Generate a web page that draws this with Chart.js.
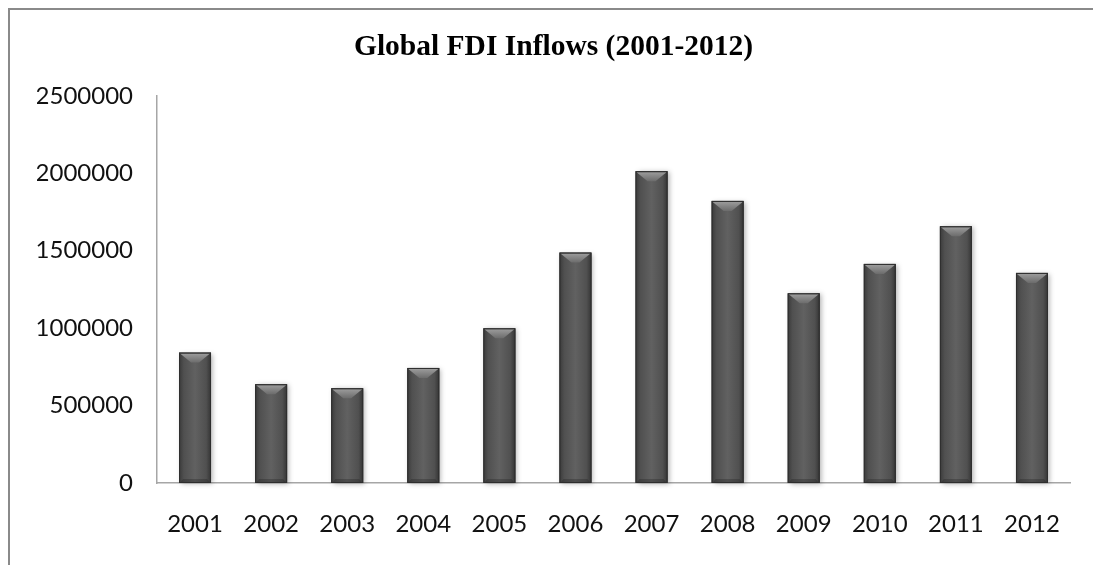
<!DOCTYPE html>
<html>
<head>
<meta charset="utf-8">
<title>Global FDI Inflows</title>
<script src="https://cdn.jsdelivr.net/npm/chart.js@4"></script>
<style>
  html, body { margin: 0; padding: 0; background: #fff; }
  #wrap { position: relative; width: 1093px; height: 565px; }
</style>
</head>
<body>
<div id="wrap"><canvas id="grafico"></canvas></div>
<script>
const years = ['2001', '2002', '2003', '2004', '2005', '2006', '2007', '2008', '2009', '2010', '2011', '2012']
const inflows = [842000, 638000, 612000, 743000, 999000, 1488000, 2014000, 1822000, 1225000, 1415000, 1658000, 1357000]
const yTicks = [0, 500000, 1000000, 1500000, 2000000, 2500000]

// frame lines (top + left) like the sheet border
const framePlugin = {
    id: 'frame',
    beforeDraw(chart) {
        const ctx = chart.ctx
        ctx.save()
        ctx.strokeStyle = '#8a8a8a'
        ctx.lineWidth = 2
        ctx.beginPath()
        ctx.moveTo(9, chart.height)
        ctx.lineTo(9, 9)
        ctx.lineTo(chart.width, 9)
        ctx.stroke()
        ctx.restore()
    }
}

// beveled dark bars painted over the library's bar elements
const bevelPlugin = {
    id: 'bevel',
    afterDatasetsDraw(chart) {
        const ctx = chart.ctx
        const meta = chart.getDatasetMeta(0)
        meta.data.forEach((bar) => {
            const w = bar.width
            const x0 = bar.x - w / 2
            const x1 = bar.x + w / 2
            const top = bar.y
            const bottom = bar.base
            const h = bottom - top
            const bev = Math.min(10, h / 2)

            ctx.save()
            // soft shadow
            ctx.shadowColor = 'rgba(0,0,0,0.3)'
            ctx.shadowBlur = 5
            ctx.shadowOffsetX = 2
            ctx.shadowOffsetY = 1
            const body = ctx.createLinearGradient(x0, 0, x1, 0)
            body.addColorStop(0, '#3a3a3a')
            body.addColorStop(0.15, '#505050')
            body.addColorStop(0.5, '#616161')
            body.addColorStop(0.85, '#505050')
            body.addColorStop(1, '#343434')
            ctx.fillStyle = body
            ctx.fillRect(x0, top, w, h)
            ctx.restore()

            ctx.save()
            // top bevel (light V)
            const cap = ctx.createLinearGradient(0, top, 0, top + bev)
            cap.addColorStop(0, '#a0a0a0')
            cap.addColorStop(1, '#6c6c6c')
            ctx.fillStyle = cap
            ctx.beginPath()
            ctx.moveTo(x0 + 1, top + 1)
            ctx.lineTo(x1 - 1, top + 1)
            ctx.lineTo(x1 - bev - 2, top + bev)
            ctx.lineTo(x0 + bev + 2, top + bev)
            ctx.closePath()
            ctx.fill()

            // bottom bevel (dark)
            ctx.fillStyle = 'rgba(30,30,30,0.3)'
            ctx.beginPath()
            ctx.moveTo(x0 + 1, bottom)
            ctx.lineTo(x1 - 1, bottom)
            ctx.lineTo(x1 - 4, bottom - 4)
            ctx.lineTo(x0 + 4, bottom - 4)
            ctx.closePath()
            ctx.fill()

            // outline
            ctx.strokeStyle = '#2e2e2e'
            ctx.lineWidth = 1
            ctx.strokeRect(x0 + 0.5, top + 0.5, w - 1, h - 1)
            ctx.restore()
        })
    }
}

const config = {
    type: 'bar',
    data: {
        labels: years,
        datasets: [{
            label: 'FDI Inflows',
            data: inflows,
            backgroundColor: '#555555',
            borderWidth: 0,
            barPercentage: 0.42,
            categoryPercentage: 1
        }]
    },
    options: {
        responsive: true,
        maintainAspectRatio: false,
        animation: false,
        layout: { padding: { left: 37, right: 23, top: 0, bottom: 0 } },
        plugins: {
            legend: { display: false },
            tooltip: { enabled: false },
            title: {
                display: true,
                text: 'Global FDI Inflows (2001-2012)',
                color: '#000',
                font: { family: '"Liberation Serif", "Times New Roman", serif', size: 29.5, weight: 'bold', lineHeight: 1.2 },
                padding: { top: 30, bottom: 30.5 }
            }
        },
        scales: {
            x: {
                grid: { display: false, drawTicks: false },
                border: { display: true, color: '#a6a6a6', width: 1.5 },
                ticks: {
                    color: '#111',
                    font: { family: 'Lato, sans-serif', size: 24 },
                    padding: 27,
                    maxRotation: 0
                },
                afterFit: (scale) => { scale.height = 82 }
            },
            y: {
                min: 0,
                max: 2500000,
                afterBuildTicks: (scale) => { scale.ticks = yTicks.map((v) => ({ value: v })) },
                grid: { display: false, drawTicks: false },
                border: { display: true, color: '#a6a6a6', width: 1.5 },
                ticks: {
                    color: '#111',
                    font: { family: 'Lato, sans-serif', size: 24 },
                    padding: 24,
                    callback: (v) => String(v)
                },
                afterFit: (scale) => { scale.width = 120 }
            }
        }
    },
    plugins: [framePlugin, bevelPlugin]
}

const chartjs = new Chart(document.getElementById('grafico'), config)
</script>
</body>
</html>
